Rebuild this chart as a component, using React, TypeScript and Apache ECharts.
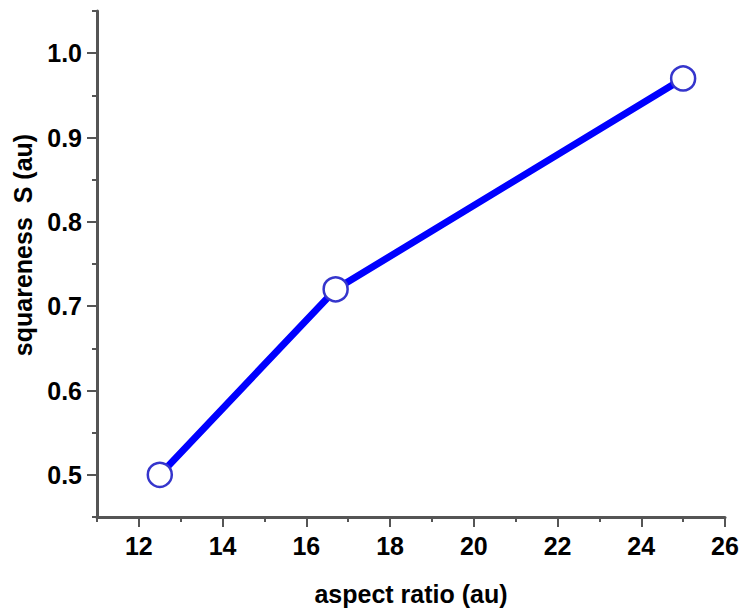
import React, { useEffect, useRef } from "react";
import * as echarts from "echarts";

const xValues = [12.5, 16.7, 25];
const yValues = [0.5, 0.72, 0.97];
const xMajorTicks = [12, 14, 16, 18, 20, 22, 24, 26];
const yMajorTicks = [0.5, 0.6, 0.7, 0.8, 0.9, 1.0];
const xTitle = "aspect ratio (au)";
const yTitle = "squareness  S (au)";

const FONT = "'Liberation Sans', Arial, sans-serif";
const AXIS_COLOR = "#555555";

export default function App() {
  const ref = useRef<HTMLDivElement>(null);
  useEffect(() => {
    if (!ref.current) return;
    const chart = echarts.init(ref.current, undefined, { renderer: "svg" });
    const data = xValues.map((x, i) => [x, yValues[i]]);
    const labelStyle = {
      color: "#000",
      fontFamily: FONT,
      fontSize: 25,
      fontWeight: "bold" as const,
    };
    chart.setOption({
      animation: false,
      backgroundColor: "#ffffff",
      grid: { left: 97, top: 11, right: 18, bottom: 93, containLabel: false },
      xAxis: [
        {
          type: "value",
          min: 11,
          max: 26,
          interval: 1,
          position: "bottom",
          axisLine: { show: true, onZero: false, lineStyle: { color: AXIS_COLOR, width: 3 } },
          axisTick: { show: true, length: 5, lineStyle: { color: AXIS_COLOR, width: 2 } },
          axisLabel: { show: false },
          splitLine: { show: false },
          name: xTitle,
          nameLocation: "middle",
          nameGap: 64,
          nameTextStyle: { ...labelStyle, fontSize: 25 },
        },
        {
          type: "value",
          min: 11,
          max: 26,
          position: "bottom",
          axisLine: { show: false, onZero: false },
          axisTick: {
            show: true,
            length: 10,
            customValues: xMajorTicks,
            lineStyle: { color: AXIS_COLOR, width: 2 },
          },
          axisLabel: { show: true, customValues: xMajorTicks, margin: 16, ...labelStyle },
          splitLine: { show: false },
        },
      ],
      yAxis: [
        {
          type: "value",
          min: 0.45,
          max: 1.05,
          interval: 0.05,
          position: "left",
          axisLine: { show: true, onZero: false, lineStyle: { color: AXIS_COLOR, width: 3 } },
          axisTick: { show: true, length: 5, lineStyle: { color: AXIS_COLOR, width: 2 } },
          axisLabel: { show: false },
          splitLine: { show: false },
        },
        {
          type: "value",
          min: 0.45,
          max: 1.05,
          position: "left",
          axisLine: { show: false, onZero: false },
          axisTick: {
            show: true,
            length: 10,
            customValues: yMajorTicks,
            lineStyle: { color: AXIS_COLOR, width: 2 },
          },
          axisLabel: {
            show: true,
            customValues: yMajorTicks,
            margin: 15,
            formatter: (v: number) => v.toFixed(1),
            ...labelStyle,
          },
          splitLine: { show: false },
        },
      ],
      graphic: [
        {
          type: "text",
          x: 23,
          y: 245,
          rotation: Math.PI / 2,
          style: {
            text: yTitle,
            fill: "#000",
            font: `bold 25px ${FONT}`,
            align: "center",
            verticalAlign: "middle",
          },
        },
      ],
      series: [
        {
          type: "line",
          xAxisIndex: 0,
          yAxisIndex: 0,
          data,
          lineStyle: { color: "#0000ff", width: 7 },
          symbol: "circle",
          symbolSize: 24,
          itemStyle: { color: "#ffffff", borderColor: "#3535cc", borderWidth: 2.5 },
          z: 5,
        },
      ],
    });
    return () => chart.dispose();
  }, []);
  return (
    <div
      ref={ref}
      style={{ position: "fixed", left: 0, top: 0, width: 743, height: 611 }}
    />
  );
}
